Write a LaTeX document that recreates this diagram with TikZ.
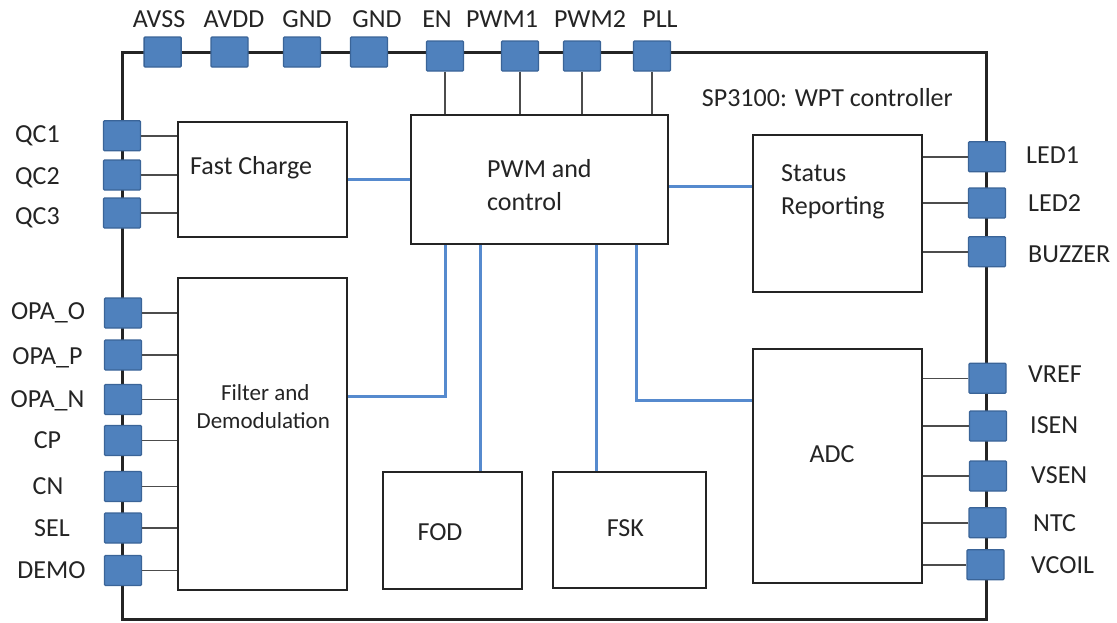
\documentclass[tikz,border=0pt]{standalone}
\usepackage{fontspec}
\setmainfont{Carlito}
\definecolor{pinfill}{RGB}{79,129,189}
\definecolor{pinedge}{RGB}{58,100,152}
\definecolor{sigblue}{RGB}{86,138,206}
\definecolor{ink}{RGB}{36,36,36}
\begin{document}
\begin{tikzpicture}[x=1pt,y=-1pt,
  chip/.style={draw=ink, line width=3pt},
  block/.style={draw=ink, line width=2.9pt, fill=white, inner sep=0pt},
  pin/.style={draw=pinedge, fill=pinfill, line width=1.3pt, minimum width=37pt,
    minimum height=30pt, inner sep=0pt, rounded corners=1pt},
  wire/.style={draw=black!70, line width=1.6pt},
  sig/.style={draw=sigblue, line width=3pt},
  pinlab/.style={font=\fontsize{26}{30}\selectfont, text=ink, inner sep=0pt,
    text height=16.5pt, text depth=0pt},
  txt/.style={font=\fontsize{26}{30}\selectfont, text=ink, inner sep=0pt},
  smalltxt/.style={font=\fontsize{23}{28}\selectfont, text=ink, inner sep=0pt}]
\useasboundingbox (0,0) rectangle (1117,622);

% package outline
\draw[chip] (122,52) rectangle (986.5,619.5);

% functional blocks
\node[block, minimum width=169pt, minimum height=115pt] (fc)  at (262.5,179.5) {};
\node[block, minimum width=169pt, minimum height=312pt] (flt) at (262.5,434) {};
\node[block, minimum width=257pt, minimum height=129pt] (pwm) at (539.5,179.5) {};
\node[block, minimum width=139pt, minimum height=117pt] (fod) at (452.5,530.5) {};
\node[block, minimum width=153pt, minimum height=116pt] (fsk) at (629.5,530) {};
\node[block, minimum width=169pt, minimum height=157pt] (st)  at (837.5,213.5) {};
\node[block, minimum width=169pt, minimum height=234pt] (adc) at (837.5,466) {};

% top pins
\node[pin] (avss) at (162.6,52) {};
\node[pin] (avdd) at (229.5,52) {};
\node[pin] (gnda) at (302,52) {};
\node[pin] (gndb) at (369,52) {};
\node[pin] (en)   at (445,56) {};
\node[pin] (pwma) at (520,56) {};
\node[pin] (pwmb) at (582,56) {};
\node[pin] (pll)  at (652,56) {};

% left pins
\node[pin] (qc1)  at (122,135.7) {};
\node[pin] (qc2)  at (122,175) {};
\node[pin] (qc3)  at (122,213) {};
\node[pin] (opao) at (123,313) {};
\node[pin] (opap) at (123,355) {};
\node[pin] (opan) at (123,399.5) {};
\node[pin] (cp)   at (123,440.5) {};
\node[pin] (cn)   at (123,486.5) {};
\node[pin] (sel)  at (123,528) {};
\node[pin] (demo) at (123,570.5) {};

% right pins
\node[pin] (led1) at (987,156.7) {};
\node[pin] (led2) at (987,203) {};
\node[pin] (buzz) at (987,251.7) {};
\node[pin] (vref) at (987.5,378.3) {};
\node[pin] (isen) at (988,426) {};
\node[pin] (vsen) at (988,476) {};
\node[pin] (ntc)  at (987.5,522.7) {};
\node[pin] (vcoil) at (985.5,564.7) {};

% pin wiring
\foreach \p in {en,pwma,pwmb,pll}
  \draw[wire] (\p.south) -- (\p.south |- pwm.north);
\foreach \p in {qc1,qc2,qc3}
  \draw[wire] (\p.east) -- (fc.west |- \p.east);
\foreach \p in {opao,opap,opan,cp,cn,sel,demo}
  \draw[wire] (\p.east) -- (flt.west |- \p.east);
\foreach \p in {led1,led2,buzz}
  \draw[wire] (\p.west) -- (st.east |- \p.west);
\foreach \p in {vref,isen,vsen,ntc,vcoil}
  \draw[wire] (\p.west) -- (adc.east |- \p.west);

% internal signal paths
\draw[sig] (fc.east) -- (pwm.west);
\draw[sig] (pwm.east |- 0,186.5) -- (st.west |- 0,186.5);
\draw[sig] (flt.east |- 0,396.5) -| (pwm.south -| 445,0);
\draw[sig] (pwm.south -| 480,0) -- (fod.north -| 480,0);
\draw[sig] (pwm.south -| 596.7,0) -- (fsk.north -| 596.7,0);
\draw[sig] (pwm.south -| 636.5,0) |- (adc.west |- 0,400);

% block texts
\node[txt, anchor=base west] (tfc) at (190,174) {Fast Charge};
\node[txt, anchor=base west] (tpwma) at (487,177.3) {PWM and};
\node[txt, anchor=base west] (tpwmb) at (487,210) {control};
\node[txt, anchor=base west] (tsta) at (781,181) {Status};
\node[txt, anchor=base west] (tstb) at (781,214) {Reporting};
\node[smalltxt, anchor=base] (tflta) at (265.3,400) {Filter and};
\node[smalltxt, anchor=base] (tfltb) at (263.3,428.3) {Demodulation};
\node[txt, anchor=base] (tfod) at (440,540) {FOD};
\node[txt, anchor=base] (tfsk) at (625.3,536.7) {FSK};
\node[txt, anchor=base] (tadc) at (832,462) {ADC};
\node[txt, anchor=base west] (ttitle) at (701.7,106.5) {SP3100: WPT controller};

% top pin names
\node[txt, anchor=base] at (159,27) {AVSS};
\node[txt, anchor=base] at (234,27) {AVDD};
\node[txt, anchor=base] at (307,27) {GND};
\node[txt, anchor=base] at (377,27) {GND};
\node[txt, anchor=base] at (437,27) {EN};
\node[txt, anchor=base] at (502,27) {PWM1};
\node[txt, anchor=base] at (590,27) {PWM2};
\node[txt, anchor=base] at (660,27) {PLL};

% left pin names
\node[pinlab] at (37.5,134) {QC1};
\node[pinlab] at (37.5,176) {QC2};
\node[pinlab] at (37.5,216) {QC3};
\node[pinlab] at (48,311) {OPA\_O};
\node[pinlab] at (47.5,356) {OPA\_P};
\node[pinlab] at (47.5,399) {OPA\_N};
\node[pinlab] at (47.5,440) {CP};
\node[pinlab] at (48,486) {CN};
\node[pinlab] at (52,528) {SEL};
\node[pinlab] at (51.5,570) {DEMO};

% right pin names
\node[pinlab, anchor=west] at (1026,155) {LED1};
\node[pinlab, anchor=west] at (1028,203) {LED2};
\node[pinlab, anchor=west] at (1028,254) {BUZZER};
\node[pinlab, anchor=west] at (1028,374) {VREF};
\node[pinlab, anchor=west] at (1030,425) {ISEN};
\node[pinlab, anchor=west] at (1031,475) {VSEN};
\node[pinlab, anchor=west] at (1033,523) {NTC};
\node[pinlab, anchor=west] at (1031,565) {VCOIL};
\end{tikzpicture}
\end{document}
